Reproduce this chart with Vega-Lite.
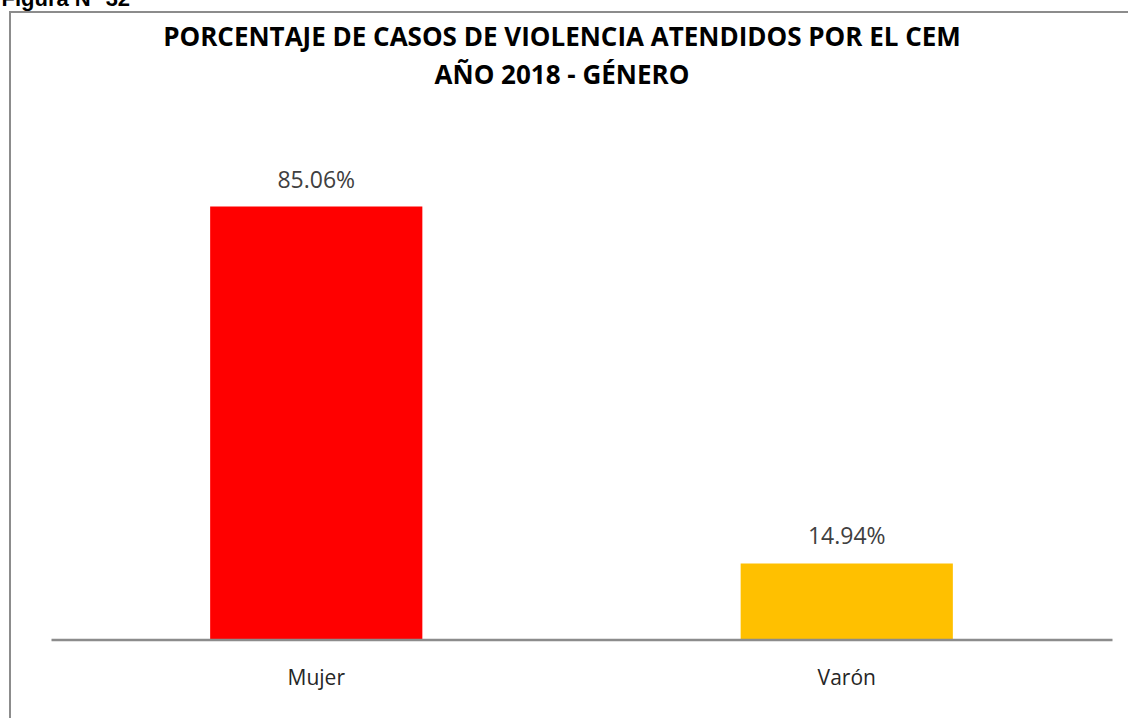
{
  "$schema": "https://vega.github.io/schema/vega-lite/v6.json",
  "autosize": {"type": "none"},
  "padding": {"left": 10, "top": 12, "right": -12, "bottom": -14},
  "width": 1130,
  "height": 720,
  "background": "#ffffff",
  "config": {
    "view": {"stroke": "#8c8c8c", "strokeWidth": 2},
    "font": "Open Sans"
  },
  "title": {
    "text": ["PORCENTAJE DE CASOS DE VIOLENCIA ATENDIDOS POR EL CEM", "AÑO 2018 - GÉNERO"],
    "anchor": "middle",
    "frame": "group",
    "orient": "top",
    "offset": -102,
    "dx": -13,
    "font": "Open Sans",
    "fontSize": 26,
    "fontWeight": "bold",
    "color": "#000000",
    "lineHeight": 37.6
  },
  "data": {
    "values": [
      {"genero": "Mujer", "pct": 0.8506},
      {"genero": "Varón", "pct": 0.1494}
    ]
  },
  "encoding": {
    "x": {
      "field": "genero",
      "type": "nominal",
      "sort": null,
      "scale": {"range": [41, 1102], "paddingInner": 0.6, "paddingOuter": 0.3},
      "axis": {
        "title": null,
        "orient": "bottom",
        "offset": -92.5,
        "domainColor": "#8c8c8c",
        "domainWidth": 2.5,
        "ticks": false,
        "tickSize": 0,
        "labelPadding": 28,
        "labelFont": "Open Sans",
        "labelFontSize": 21,
        "labelColor": "#262626",
        "labelAngle": 0,
        "zindex": 1
      }
    },
    "y": {
      "field": "pct",
      "type": "quantitative",
      "scale": {"domain": [-0.1817, 1.2328], "nice": false, "zero": false},
      "axis": {
        "title": "Figura N° 32",
        "titleAngle": 0,
        "titleX": -9,
        "titleY": -7,
        "titleAlign": "left",
        "titleBaseline": "alphabetic",
        "titleFont": "Liberation Sans",
        "titleFontSize": 22,
        "titleFontWeight": "bold",
        "titleColor": "#000000",
        "domain": false,
        "ticks": false,
        "labels": false,
        "grid": false
      }
    }
  },
  "layer": [
    {
      "mark": {"type": "bar"},
      "encoding": {
        "y2": {"datum": 0},
        "color": {
          "field": "genero",
          "type": "nominal",
          "scale": {"domain": ["Mujer", "Varón"], "range": ["#ff0000", "#ffc000"]},
          "legend": null
        }
      }
    },
    {
      "mark": {"type": "text", "baseline": "alphabetic", "dy": -19, "font": "Open Sans", "fontSize": 23, "color": "#404040"},
      "encoding": {
        "text": {"field": "pct", "type": "quantitative", "format": ".2%"}
      }
    }
  ]
}
